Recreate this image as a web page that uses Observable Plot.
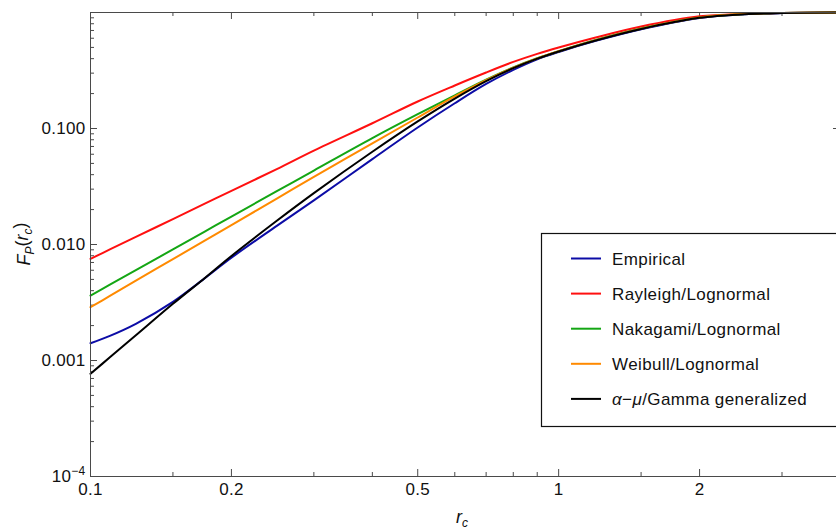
<!DOCTYPE html>
<html>
<head>
<meta charset="utf-8">
<script src="https://cdn.jsdelivr.net/npm/d3@7"></script>
<script src="https://cdn.jsdelivr.net/npm/@observablehq/plot@0.6"></script>
<style>
  html, body { margin: 0; padding: 0; background: #fff; overflow: hidden; }
  #chart svg { display: block; overflow: hidden; }
</style>
</head>
<body>
<div id="chart"></div>
<script>
// Normalized threshold r_c (x) and CDF F_P(r_c) for each distribution
const rc = [0.1, 0.11, 0.125, 0.15, 0.175, 0.2, 0.25, 0.3, 0.4, 0.5, 0.6, 0.7, 0.8, 0.9, 1.0, 1.2, 1.5, 2.0, 2.5, 3.0, 4.0];

const empirical = [0.00141, 0.00163, 0.00207, 0.00320, 0.00508, 0.00769, 0.01446, 0.0240, 0.0545, 0.102, 0.1650, 0.2420, 0.3200, 0.395, 0.4566, 0.569, 0.717, 0.897, 0.965, 0.988, 0.999];
const rayleighLognormal = [0.00753, 0.00906, 0.01163, 0.01656, 0.0224, 0.0290, 0.0447, 0.0645, 0.1110, 0.171, 0.235, 0.304, 0.375, 0.440, 0.499, 0.609, 0.757, 0.927, 0.974, 0.990, 0.999];
const nakagamiLognormal = [0.00363, 0.00450, 0.00602, 0.00907, 0.01286, 0.0174, 0.0288, 0.0434, 0.0826, 0.1328, 0.1932, 0.2635, 0.336, 0.403, 0.464, 0.579, 0.727, 0.906, 0.971, 0.990, 0.999];
const weibullLognormal = [0.00288, 0.00360, 0.00488, 0.00748, 0.01073, 0.01469, 0.0249, 0.0383, 0.0743, 0.1244, 0.1888, 0.2610, 0.334, 0.402, 0.463, 0.578, 0.726, 0.905, 0.972, 0.991, 0.9995];
const alphaMuGamma = [0.000768, 0.001065, 0.00165, 0.00308, 0.00510, 0.00796, 0.0160, 0.0277, 0.0630, 0.1150, 0.181, 0.2560, 0.331, 0.400, 0.461, 0.574, 0.721, 0.899, 0.966, 0.988, 0.999];

const seriesNames = ["Empirical", "Rayleigh/Lognormal", "Nakagami/Lognormal", "Weibull/Lognormal", "α−μ/Gamma generalized"];
const seriesValues = [empirical, rayleighLognormal, nakagamiLognormal, weibullLognormal, alphaMuGamma];
const seriesColors = ["#0c0ca6", "#ff1010", "#14a614", "#ff8a00", "#000000"];

// Axis ticks
const xMajor = [0.1, 0.2, 0.5, 1, 2];
const xMinor = [0.15, 0.3, 0.4, 0.6, 0.7, 0.8, 0.9, 1.5, 3, 4];
const yMajor = [1e-4, 1e-3, 1e-2, 1e-1, 1];
const yMinor = [1e-4, 1e-3, 1e-2, 1e-1].flatMap(d => d3.range(2, 10).map(k => k * d));
const yLabels = new Map([[1e-4, "10"], [1e-3, "0.001"], [1e-2, "0.010"], [1e-1, "0.100"]]);

const rows = seriesNames.flatMap((name, i) =>
  rc.map((x, j) => ({series: name, rc: x, F: seriesValues[i][j]})));

const W = 836, H = 529;
const mL = 90, mT = 12, mB = 53, mR = -4;
const innerW = W - mL - mR, innerH = H - mT - mB;
const axisColor = "#4a4a4a";
const font = "'Liberation Sans', Helvetica, Arial, sans-serif";

const chart = Plot.plot({
  width: W,
  height: H,
  marginLeft: mL,
  marginTop: mT,
  marginBottom: mB,
  marginRight: mR,
  style: {fontFamily: font, fontSize: "17px", color: "#111", background: "#fff"},
  x: {type: "log", domain: [0.1, 4], label: null},
  y: {type: "log", domain: [1e-4, 1], label: null},
  color: {domain: seriesNames, range: seriesColors},
  marks: [
    // inward ticks on all four sides
    Plot.tickX(xMajor, {x: d => d, insetTop: innerH - 7, stroke: axisColor}),
    Plot.tickX(xMinor, {x: d => d, insetTop: innerH - 4, stroke: axisColor}),
    Plot.tickX(xMajor, {x: d => d, insetBottom: innerH - 7, stroke: axisColor}),
    Plot.tickX(xMinor, {x: d => d, insetBottom: innerH - 4, stroke: axisColor}),
    Plot.tickY(yMajor, {y: d => d, insetRight: innerW - 7, stroke: axisColor}),
    Plot.tickY(yMinor, {y: d => d, insetRight: innerW - 4, stroke: axisColor}),
    Plot.tickY(yMajor, {y: d => d, insetLeft: innerW - 7, stroke: axisColor}),
    Plot.tickY(yMinor, {y: d => d, insetLeft: innerW - 4, stroke: axisColor}),
    Plot.axisX({anchor: "bottom", ticks: xMajor, tickSize: 0, tickPadding: 6,
      tickFormat: d => String(d), fontSize: 17, fill: "#111"}),
    Plot.axisY({anchor: "left", ticks: [1e-4, 1e-3, 1e-2, 1e-1], tickSize: 0, tickPadding: 5,
      tickFormat: d => yLabels.get(d), fontSize: 17, fill: "#111"}),
    Plot.line(rows, {x: "rc", y: "F", z: "series", stroke: "series",
      strokeWidth: 2, curve: "catmull-rom"}),
    Plot.frame({stroke: axisColor, strokeWidth: 1})
  ]
});

document.getElementById("chart").appendChild(chart);

const svg = d3.select(chart);
svg.selectAll("g[aria-label$='tick label'] text").attr("letter-spacing", 0.3);

// exponent on the 10^-4 tick label
svg.selectAll("text").filter(function () { return this.textContent === "10"; })
  .append("tspan").attr("dy", "-0.55em").attr("font-size", 12).text("−4");

// x-axis title r_c
const xt = svg.append("text")
  .attr("x", 462).attr("y", 523)
  .attr("text-anchor", "middle")
  .attr("font-family", font).attr("font-size", 18).attr("fill", "#111");
xt.append("tspan").attr("font-style", "italic").text("r");
xt.append("tspan").attr("font-style", "italic").attr("font-size", 12).attr("dy", "0.3em").text("c");

// y-axis title F_P(r_c)
const yt = svg.append("text")
  .attr("transform", "translate(30,244) rotate(-90)")
  .attr("text-anchor", "middle")
  .attr("font-family", font).attr("font-size", 18).attr("fill", "#111");
yt.append("tspan").attr("font-style", "italic").text("F");
yt.append("tspan").attr("font-style", "italic").attr("font-size", 12).attr("dy", "0.3em").text("P");
yt.append("tspan").attr("dy", "-0.3em").text("(");
yt.append("tspan").attr("font-style", "italic").text("r");
yt.append("tspan").attr("font-style", "italic").attr("font-size", 12).attr("dy", "0.3em").text("c");
yt.append("tspan").attr("dy", "-0.3em").text(")");

// legend box
const lg = svg.append("g").attr("text-anchor", "start");
lg.append("rect")
  .attr("x", 541.5).attr("y", 233.5).attr("width", 310).attr("height", 193)
  .attr("fill", "#fff").attr("stroke", "#111").attr("stroke-width", 1.2);
seriesNames.forEach((name, i) => {
  const cy = 258.5 + i * 35.1;
  lg.append("line")
    .attr("x1", 571).attr("x2", 601).attr("y1", cy).attr("y2", cy)
    .attr("stroke", seriesColors[i]).attr("stroke-width", 2);
  const t = lg.append("text")
    .attr("x", 612).attr("y", cy).attr("dy", "0.36em")
    .attr("text-anchor", "start").attr("letter-spacing", 0.4)
    .attr("font-family", font).attr("font-size", 17).attr("fill", "#111");
  // Greek symbols in italics
  name.split(/([αμ])/).filter(s => s.length).forEach(s => {
    const sp = t.append("tspan").text(s);
    if (s === "α" || s === "μ") sp.attr("font-style", "italic");
  });
});
</script>
</body>
</html>
